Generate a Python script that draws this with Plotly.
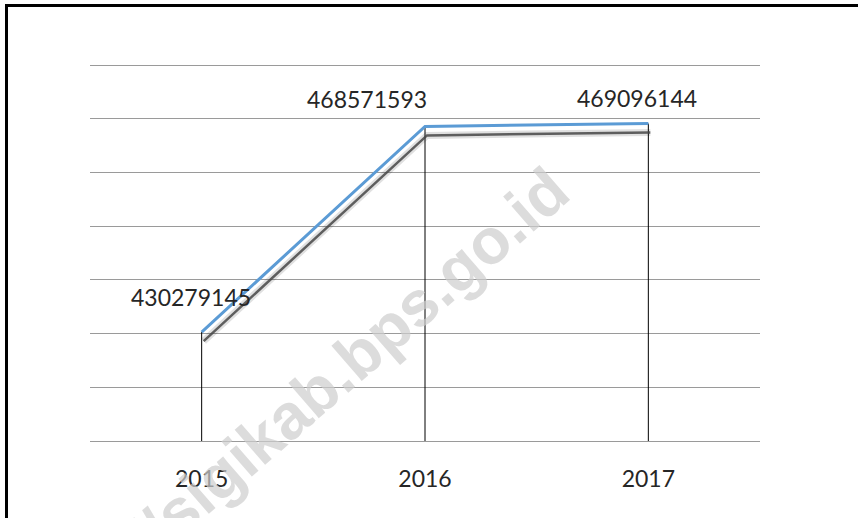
import plotly.graph_objects as go

years = ["2015", "2016", "2017"]
values = [430279145, 468571593, 469096144]
value_labels = ["430279145", "468571593", "469096144"]
y_min = 410000000
y_max = 480000000
y_step = 10000000
watermark = "https://sigikab.bps.go.id"

W, H = 858, 518
grid_top_px, grid_bot_px = 65, 441
edge_px = 3
L, R = 90, 98
T = grid_top_px - edge_px
B = H - grid_bot_px - edge_px
plot_h = H - T - B
plot_w = W - L - R
unit_per_px = (y_max - y_min) / (grid_bot_px - grid_top_px)
pad = edge_px * unit_per_px

# shadow offset expressed via a shifted overlay axis
shadow_dy_px = 9
shadow_dx_px = 2
dy = shadow_dy_px * unit_per_px
dx = shadow_dx_px * 3.0 / plot_w

def px_x(p):
    return (p - L) / plot_w

def px_y(p):
    return (H - B - p) / plot_h

fig = go.Figure()

# shadow (drawn on shifted overlay axes)
fig.add_trace(go.Scatter(x=years, y=values, xaxis="x2", yaxis="y2", mode="lines",
                         line=dict(color="rgba(0,0,0,0.12)", width=7), hoverinfo="skip"))
fig.add_trace(go.Scatter(x=years, y=values, xaxis="x2", yaxis="y2", mode="lines",
                         line=dict(color="rgba(70,70,70,0.85)", width=2.5), hoverinfo="skip"))

# drop lines
dl_x, dl_y = [], []
for yr, v in zip(years, values):
    dl_x += [yr, yr, None]
    dl_y += [v, y_min, None]
fig.add_trace(go.Scatter(x=dl_x, y=dl_y, mode="lines",
                         line=dict(color="#000000", width=1), hoverinfo="skip"))

# main line
fig.add_trace(go.Scatter(x=years, y=values, mode="lines",
                         line=dict(color="#5B9BD5", width=3)))

label_shifts = [(-11, 35), (-58, 27), (-11, 26)]
for i, (v, lab, (xs, ys)) in enumerate(zip(values, value_labels, label_shifts)):
    fig.add_annotation(xref="x", yref="y", x=i, y=v, text=lab, showarrow=False,
                       xanchor="center", yanchor="middle", xshift=xs, yshift=ys,
                       font=dict(family="Lato", size=23, color="#262626"))

# watermark
fig.add_annotation(xref="paper", yref="paper", x=px_x(281), y=px_y(422),
                   xanchor="center", yanchor="middle",
                   text="<b>" + watermark + "</b>", showarrow=False, textangle=-41,
                   font=dict(family="Liberation Sans", size=64, color="rgba(205,205,205,0.7)"))

# frame border (left and top)
fig.add_shape(type="path", xref="paper", yref="paper",
              path=f"M {px_x(6.5)} {px_y(530)} L {px_x(6.5)} {px_y(5.5)} L {px_x(870)} {px_y(5.5)}",
              line=dict(color="#000000", width=3))

fig.update_layout(
    width=W, height=H,
    margin=dict(l=L, r=R, t=T, b=B),
    paper_bgcolor="white", plot_bgcolor="white",
    showlegend=False,
    xaxis=dict(type="category", categoryarray=years, range=[-0.5, 2.5],
               showgrid=False, zeroline=False, showline=False, ticks="",
               ticklabelstandoff=19,
               tickfont=dict(family="Lato", size=23, color="#262626")),
    xaxis2=dict(type="category", categoryarray=years, range=[-0.5 - dx, 2.5 - dx],
                overlaying="x", visible=False),
    yaxis=dict(range=[y_min - pad, y_max + pad], dtick=y_step, tick0=y_min,
               showgrid=True, gridcolor="#9a9a9a", gridwidth=1,
               zeroline=False, showticklabels=False, ticks="", showline=False),
    yaxis2=dict(range=[y_min - pad + dy, y_max + pad + dy], overlaying="y", visible=False),
)

fig.write_html("out.html", config={"displayModeBar": False},
               post_script="document.body.style.margin='0';")
